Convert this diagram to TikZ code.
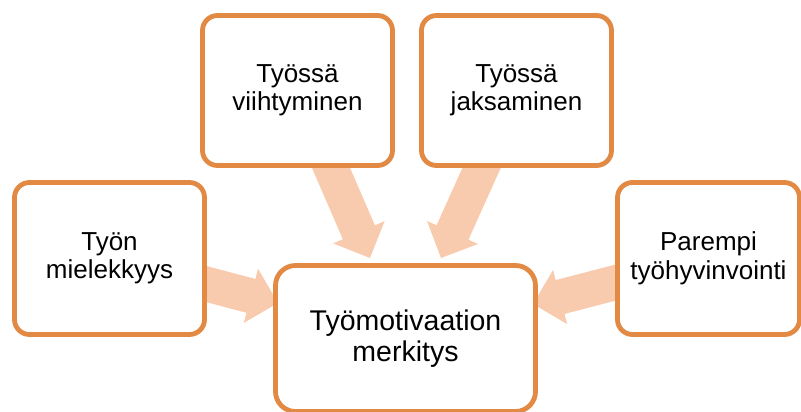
\documentclass[tikz,border=0pt]{standalone}
\usepackage{fontspec}
\setmainfont{Liberation Sans}
\usetikzlibrary{calc,backgrounds}
\definecolor{boxline}{HTML}{E28A43}
\definecolor{arrfill}{HTML}{F9CBAE}
\tikzset{
  card/.style={draw=boxline, line width=4.8pt, fill=white, rounded corners=15pt,
    align=center, inner sep=0pt, font=\fontsize{26}{28.5}\selectfont},
  bigcard/.style={card, rounded corners=20pt, font=\fontsize{28.5}{30.5}\selectfont},
  arrowfill/.style={fill=arrfill}
}
\newcommand\blockarr[2]{%
  \coordinate (nk) at ($(#2)!28pt!(#1)$);
  \fill[arrowfill] ($(#1)!17.5pt!90:(#2)$) -- ($(nk)!17.5pt!90:(#2)$) -- ($(nk)!28pt!90:(#2)$)
    -- (#2) -- ($(nk)!28pt!-90:(#2)$) -- ($(nk)!17.5pt!-90:(#2)$) -- ($(#1)!17.5pt!-90:(#2)$) -- cycle;
}
\begin{document}
\begin{tikzpicture}[x=1pt,y=-1pt]
\useasboundingbox (0,0) rectangle (801,412);
\clip (0,0) rectangle (801,412);
\node[card, minimum width=190pt, minimum height=152pt] (l) at (109.5,258.5) {Työn\\mielekkyys};
\node[card, minimum width=190pt, minimum height=150pt] (tl) at (297.5,90.5) {Työssä\\viihtyminen};
\node[card, minimum width=190pt, minimum height=150pt] (tr) at (516.5,90.5) {Työssä\\jaksaminen};
\node[card, minimum width=182pt, minimum height=152pt] (r) at (708.5,258.5) {Parempi\\työhyvinvointi};
\node[bigcard, minimum width=260pt, minimum height=146pt] (c) at (405.5,338.5) {Työmotivaation\\merkitys};
\coordinate (tipl) at (278,303);
\coordinate (tiptl) at (370,258);
\coordinate (tiptr) at (441,258);
\coordinate (tipr) at (533,304);
\begin{scope}[on background layer]
\blockarr{l.center}{tipl}
\blockarr{tl.center}{tiptl}
\blockarr{tr.center}{tiptr}
\blockarr{r.center}{tipr}
\end{scope}
\end{tikzpicture}
\end{document}
